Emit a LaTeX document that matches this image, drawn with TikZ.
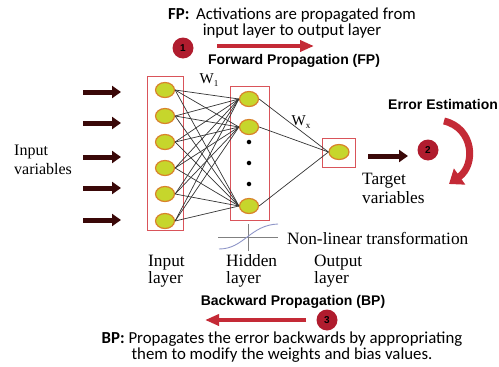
\documentclass[tikz,border=0pt]{standalone}
\usepackage{fontspec}
\setmainfont{Liberation Serif}
\newfontfamily\calibri{Carlito}
\newfontfamily\arialf{Liberation Sans}
\usetikzlibrary{arrows.meta,shapes.geometric}
\definecolor{nodefill}{HTML}{C6D62C}
\definecolor{nodeedge}{HTML}{D9822B}
\definecolor{boxred}{HTML}{D9545A}
\definecolor{stepred}{HTML}{B01C2E}
\definecolor{arrowred}{HTML}{C42A36}
\definecolor{inmaroon}{HTML}{3A0808}
\definecolor{sigblue}{HTML}{8F96C8}

\begin{document}
\begin{tikzpicture}[x=1pt, y=-1pt,
    neuron/.style={ellipse, draw=nodeedge, fill=nodefill, line width=1.2pt, minimum width=19pt, minimum height=15pt, inner sep=0pt},
    layerbox/.style={draw=boxred, line width=0.8pt, inner sep=0pt},
    wire/.style={black!80, line width=0.7pt},
    stepnum/.style={circle, fill=stepred, minimum size=21pt, inner sep=0pt, font=\arialf\bfseries\fontsize{10}{10}\selectfont},
    inarrow/.style={inmaroon, line width=5pt, -{Triangle[width=12pt,length=9pt]}},
    bigarrow/.style={arrowred, line width=4pt, -{Triangle[width=11pt,length=14pt]}},
    serif/.style={font=\fontsize{15}{17}\selectfont, align=left, inner sep=0pt},
    bigserif/.style={font=\fontsize{17.3}{17.5}\selectfont, align=left, inner sep=0pt},
    title/.style={font=\arialf\bfseries\fontsize{14}{16}\selectfont, inner sep=0pt},
    note/.style={font=\calibri\fontsize{16.8}{16.5}\selectfont, align=center, inner sep=0pt}]
    \useasboundingbox (0,0) rectangle (499,367);

    % layer boxes
    \node(inbox) at (165,153) [layerbox, minimum width=36pt, minimum height=154pt] {};
    \node(hidbox) at (249.5,153) [layerbox, minimum width=39pt, minimum height=134pt] {};
    \node(outbox) at (338.5,152.5) [layerbox, minimum width=33pt, minimum height=29pt] {};

    % neurons
    \foreach \i/\y in {1/90, 2/116, 3/142, 4/168, 5/194, 6/221}
      \node(in\i) at (165,\y) [neuron] {};
    \node(hid1) at (249,99) [neuron] {};
    \node(hid2) at (249,127) [neuron] {};
    \node(hid3) at (249,206) [neuron] {};
    \node(out) at (339,152) [neuron, minimum width=20pt] {};
    \foreach \k/\y in {1/142, 2/163, 3/184}
      \node(dot\k) at (249,\y) [circle, fill=black, inner sep=1.6pt] {};

    % weights
    \foreach \i in {1,...,6}
      \foreach \h in {1,2,3}
        \draw[wire] (in\i.east) -- (hid\h.west);
    \foreach \h in {1,2,3}
      \draw[wire] (hid\h.east) -- (out.west);
    \node(w1) at (209,80) [serif] {W\raisebox{-3pt}{\fontsize{9}{9}\selectfont 1}};
    \node(wx) at (301,122) [serif] {W\raisebox{-3pt}{\fontsize{9}{9}\selectfont x}};

    % inputs and target
    \foreach \k/\y in {1/92, 2/123, 3/157, 4/188, 5/220} {
      \coordinate (src\k) at (83,\y);
      \coordinate (dst\k) at (121,\y);
      \draw[inarrow] (src\k) -- (dst\k);
    }
    \node(invars) at (14,160) [serif, font=\fontsize{16}{18.5}\selectfont, anchor=west] {Input\\variables};
    \coordinate (tgtA) at (368,156);
    \coordinate (tgtB) at (408,156);
    \draw[inarrow] (tgtA) -- (tgtB);
    \node(tgtvars) at (362,188) [bigserif, font=\fontsize{17.3}{19}\selectfont, anchor=west] {Target\\variables};

    % activation
    \coordinate (sigL) at (218,237);
    \coordinate (sigR) at (278,237);
    \coordinate (sigB) at (248,251);
    \coordinate (sigT) at (248,224);
    \draw[gray, line width=0.8pt] (sigL) -- (sigR);
    \draw[gray, line width=0.8pt] (sigB) -- (sigT);
    \draw[sigblue, line width=0.9pt] (219,249) .. controls (244,249) and (250,225) .. (278,224);
    \node(nonlin) at (287,238) [bigserif, anchor=west] {Non-linear transformation};
    \node(inlab) at (148,271) [bigserif, anchor=west] {Input\\layer};
    \node(hidlab) at (226,271) [bigserif, anchor=west] {Hidden\\layer};
    \node(outlab) at (314,271) [bigserif, anchor=west] {Output\\layer};

    % step 1: forward pass
    \node(fpnote) at (292,23) [note] {\textbf{FP:}\, Activations are propagated from\\input layer to output layer};
    \node(step1) at (183,48) [stepnum] {1};
    \coordinate (fpA) at (217,46);
    \coordinate (fpB) at (314,46);
    \draw[bigarrow] (fpA) -- (fpB);
    \node(fptitle) at (294,61) [title] {Forward Propagation (FP)};

    % step 2: error
    \node(errtitle) at (388,104) [title, anchor=west] {Error Estimation};
    \node(step2) at (428,150) [stepnum] {2};
    \coordinate (errA) at (444,121);
    \coordinate (errB) at (449,184);
    \draw[arrowred, line width=7pt, -{Triangle[width=19pt,length=13pt]}] (errA) .. controls (474,128) and (476,165) .. (errB);

    % step 3: backward pass
    \node(bptitle) at (293,302) [title] {Backward Propagation (BP)};
    \node(step3) at (327,320) [stepnum] {3};
    \coordinate (bpA) at (306,320);
    \coordinate (bpB) at (205,320);
    \draw[bigarrow] (bpA) -- (bpB);
    \node(bpnote) at (282,347) [note] {\textbf{BP:} Propagates the error backwards by appropriating\\them to modify the weights and bias values.};
\end{tikzpicture}
\end{document}
